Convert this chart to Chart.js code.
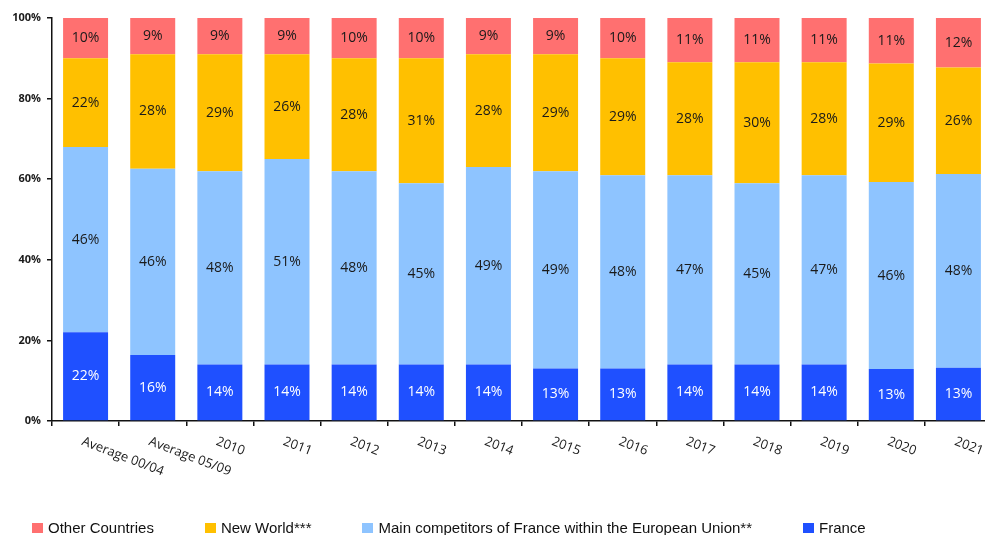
<!DOCTYPE html>
<html>
<head>
<meta charset="utf-8">
<script src="https://cdn.jsdelivr.net/npm/chart.js@4.4.1/dist/chart.umd.min.js"></script>
<style>
	body { margin: 0; overflow: hidden; background: #fff; }
	#wrap { position: relative; width: 992px; height: 535px; }
	#legend {
		position: absolute; left: 32px; top: 519px;
		display: flex; gap: 51px;
		font: 15px "Liberation Sans", Arial, sans-serif; color: #111;
	}
	#legend span.item { display: flex; align-items: center; }
	#legend span.box { width: 11px; height: 10px; margin-right: 5px; display: inline-block; }
</style>
</head>
<body>
<div id="wrap">
	<canvas id="chart"></canvas>
	<div id="legend"></div>
</div>
<script>
const categories = ["Average 00/04", "Average 05/09", "2010", "2011", "2012", "2013", "2014", "2015", "2016", "2017", "2018", "2019", "2020", "2021"];
const france = [22, 16.4, 14, 14, 14, 14, 14, 13, 13, 14, 14, 14, 12.9, 13.2];
const mainCompetitorsEU = [46, 46.2, 48, 51, 48, 45, 49, 49, 48, 47, 45, 47, 46.4, 48.1];
const newWorld = [22, 28.4, 29, 26, 28, 31, 28, 29, 29, 28, 30, 28, 29.4, 26.4];
const otherCountries = [10, 9, 9, 9, 10, 10, 9, 9, 10, 11, 11, 11, 11.3, 12.3];
const yTicks = [0, 20, 40, 60, 80, 100];

const labelFont = '"Open Sans", sans-serif';

// values inside the bars
const barValues = {
	id: "barValues",
	afterDatasetsDraw(chart) {
		const ctx = chart.ctx;
		ctx.save();
		ctx.font = "500 14px " + labelFont;
		ctx.textAlign = "center";
		ctx.textBaseline = "middle";
		chart.data.datasets.forEach((ds, i) => {
			chart.getDatasetMeta(i).data.forEach((bar, j) => {
				ctx.fillStyle = ds.valueColor;
				ctx.fillText(Math.round(ds.data[j]) + "%", bar.x, (bar.y + bar.base) / 2);
			});
		});
		ctx.restore();
	},
};

// x labels slanted downwards, starting under each bar
const slantedLabels = {
	id: "slantedLabels",
	afterDraw(chart) {
		const ctx = chart.ctx;
		const x = chart.scales.x;
		ctx.save();
		ctx.font = "13px " + labelFont;
		ctx.fillStyle = "#1a1a1a";
		ctx.textAlign = "left";
		ctx.textBaseline = "top";
		categories.forEach((c, i) => {
			ctx.save();
			ctx.translate(x.getPixelForTick(i) - 1, x.top + 14);
			ctx.rotate((21 * Math.PI) / 180);
			ctx.fillText(c, 0, 0);
			ctx.restore();
		});
		ctx.restore();
	},
};

const chart = new Chart(document.getElementById("chart"), {
	type: "bar",
	data: {
		labels: categories,
		datasets: [
			{ label: "France", data: france, backgroundColor: "rgb(31,80,255)", valueColor: "#ffffff" },
			{ label: "Main competitors of France within the European Union**", data: mainCompetitorsEU, backgroundColor: "rgb(142,196,255)", valueColor: "#1a1a1a" },
			{ label: "New World***", data: newWorld, backgroundColor: "rgb(255,192,0)", valueColor: "#1a1a1a" },
			{ label: "Other Countries", data: otherCountries, backgroundColor: "rgb(255,112,112)", valueColor: "#1a1a1a" },
		],
	},
	options: {
		responsive: true,
		maintainAspectRatio: false,
		animation: false,
		layout: { padding: { top: 18, right: 0, bottom: 0, left: 0 } },
		datasets: { bar: { categoryPercentage: 1, barPercentage: 0.67 } },
		plugins: { legend: { display: false }, tooltip: { enabled: false } },
		scales: {
			x: {
				stacked: true,
				afterFit: (s) => { s.height = 114; },
				border: { color: "#111", width: 1.5 },
				grid: { drawOnChartArea: false, color: "#111", tickLength: 5, lineWidth: 1.5 },
				ticks: { display: false },
			},
			y: {
				stacked: true,
				min: 0,
				max: 100,
				afterFit: (s) => { s.width = 52; },
				afterBuildTicks: (s) => { s.ticks = yTicks.map((v) => ({ value: v })); },
				border: { color: "#111", width: 1.5 },
				grid: { drawOnChartArea: false, color: "#111", tickLength: 5, lineWidth: 1.5 },
				ticks: {
					padding: 6,
					color: "#1a1a1a",
					font: { family: labelFont, size: 11, weight: "bold" },
					callback: (v) => v + "%",
				},
			},
		},
	},
	plugins: [barValues, slantedLabels],
});

// legend, top series first
const legend = document.getElementById("legend");
chart.data.datasets.slice().reverse().forEach((ds) => {
	legend.insertAdjacentHTML("beforeend",
		'<span class="item"><span class="box" style="background:' + ds.backgroundColor + '"></span>' + ds.label + "</span>");
});
</script>
</body>
</html>
